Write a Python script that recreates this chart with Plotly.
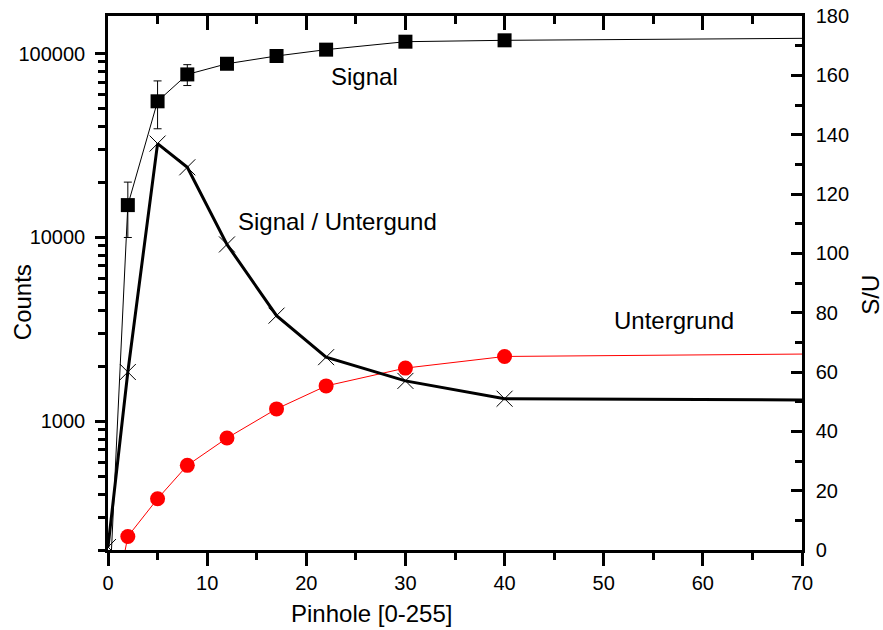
import plotly.graph_objects as go
import numpy as np

pinhole = [0, 2, 5, 8, 12, 17, 22, 30, 40, 100]
signal = [80, 15000, 55000, 77000, 88000, 97000, 105000, 116000, 118000, 124000]
signal_err = [0, 5000, 16000, 10000, 0, 0, 0, 0, 0, 0]
untergrund = [66, 237, 380, 577, 812, 1170, 1560, 1950, 2255, 2395]
s_u = [1, 60, 137, 129, 103, 79, 65, 57, 51, 50.2]

left_ticks = [1000, 10000, 100000]
left_ticktext = ["1000", "10000", "100000"]
left_minor = [v * m for v in [100, 1000, 10000, 100000] for m in range(2, 10)]

FONT = "Liberation Sans, Arial, sans-serif"

fig = go.Figure()
fig.add_trace(go.Scatter(
    x=pinhole, y=signal, mode="lines+markers",
    line=dict(color="black", width=1),
    marker=dict(symbol="square", size=14, color="black"),
    error_y=dict(type="data", array=signal_err, visible=True, color="black", thickness=1, width=4),
    showlegend=False))
fig.add_trace(go.Scatter(
    x=pinhole, y=untergrund, mode="lines+markers",
    line=dict(color="red", width=1),
    marker=dict(symbol="circle", size=15, color="red"),
    showlegend=False))
fig.add_trace(go.Scatter(
    x=pinhole, y=s_u, mode="lines+markers", yaxis="y2",
    line=dict(color="black", width=3),
    marker=dict(symbol="x-thin-open", size=16, color="black", line=dict(color="black", width=1)),
    showlegend=False))

axis_font = dict(family=FONT, size=20, color="black")
title_font = dict(family=FONT, size=24, color="black")

fig.update_layout(
    width=883, height=630,
    margin=dict(l=108, r=81, t=16, b=80, autoexpand=False),
    plot_bgcolor="white", paper_bgcolor="white",
    font=dict(family=FONT, color="black"),
    xaxis=dict(
        range=[0, 70], dtick=10, showgrid=False, zeroline=False, automargin=False,
        showline=True, linecolor="black", linewidth=2.5,
        ticks="outside", ticklen=13, tickwidth=2.5, tickcolor="black",
        minor=dict(dtick=5, ticks="outside", ticklen=7, tickwidth=2.5, tickcolor="black"),
        tickfont=axis_font, ticklabeloverflow="allow",
    ),
    xaxis2=dict(
        range=[0, 70], dtick=10, overlaying="x", side="top", showgrid=False, zeroline=False,
        automargin=False,
        showline=True, linecolor="black", linewidth=2.5,
        ticks="inside", ticklen=14, tickwidth=2.5, tickcolor="black", showticklabels=False,
        minor=dict(dtick=5, ticks="inside", ticklen=8, tickwidth=2.5, tickcolor="black"),
    ),
    yaxis=dict(
        type="log", range=[np.log10(200), np.log10(160000)], automargin=False,
        tickvals=left_ticks, ticktext=left_ticktext, showgrid=False, zeroline=False,
        showline=True, linecolor="black", linewidth=2.5,
        ticks="outside", ticklen=10, tickwidth=2.5, tickcolor="black",
        minor=dict(tickvals=left_minor, ticks="outside", ticklen=7, tickwidth=2.5, tickcolor="black"),
        tickfont=axis_font, ticklabelstandoff=6, ticklabeloverflow="allow",
    ),
    yaxis2=dict(
        range=[0, 180], dtick=20, overlaying="y", side="right", showgrid=False, zeroline=False,
        automargin=False,
        showline=True, linecolor="black", linewidth=2.5,
        ticks="inside", ticklen=11, tickwidth=2.5, tickcolor="black",
        minor=dict(dtick=10, ticks="inside", ticklen=7, tickwidth=2.5, tickcolor="black"),
        tickfont=axis_font, ticklabelstandoff=7, ticklabeloverflow="allow",
    ),
)

# dummy trace so the top axis is drawn
fig.add_trace(go.Scatter(x=[None], y=[None], xaxis="x2", showlegend=False, hoverinfo="skip"))

# axis titles
fig.add_annotation(text="Pinhole [0-255]", x=0.379, y=-0.118, xref="paper", yref="paper",
                   showarrow=False, font=title_font, xanchor="center", yanchor="middle")
fig.add_annotation(text="Counts", x=-0.124, y=0.464, xref="paper", yref="paper", textangle=-90,
                   showarrow=False, font=title_font, xanchor="center", yanchor="middle")
fig.add_annotation(text="S/U", x=1.0975, y=0.4775, xref="paper", yref="paper", textangle=-90,
                   showarrow=False, font=title_font, xanchor="center", yanchor="middle")

ann_font = dict(family=FONT, size=24, color="black")
fig.add_annotation(text="Signal", x=22.3, y=np.log10(75000), xref="x", yref="y",
                   xanchor="left", yanchor="middle", showarrow=False, font=ann_font)
fig.add_annotation(text="Signal / Untergund", x=12.9, y=np.log10(12200), xref="x", yref="y",
                   xanchor="left", yanchor="middle", showarrow=False, font=ann_font)
fig.add_annotation(text="Untergrund", x=50.8, y=np.log10(3540), xref="x", yref="y",
                   xanchor="left", yanchor="middle", showarrow=False, font=ann_font)

# remove the browser's default 8px body margin so the figure fills the window exactly
fig.write_html("out.html", config={"displayModeBar": False},
               post_script="document.body.style.margin='0';document.body.style.overflow='hidden';")
